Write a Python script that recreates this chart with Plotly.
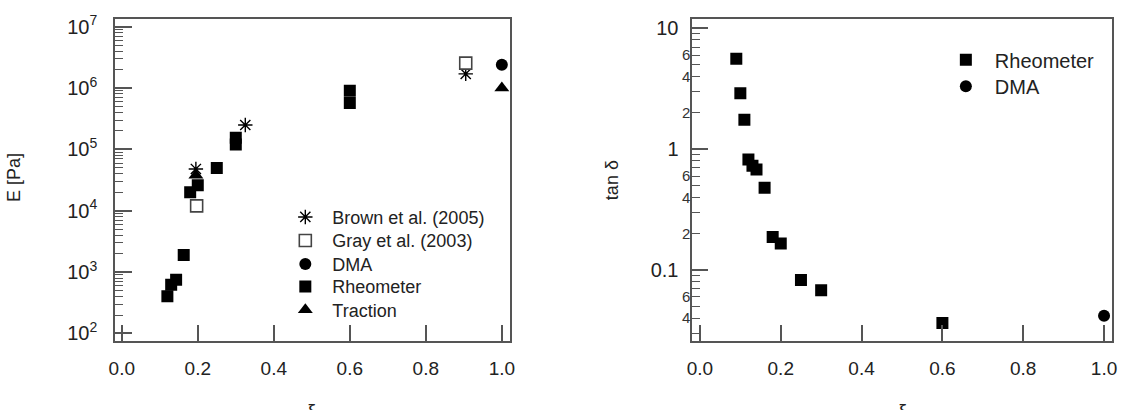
import plotly.graph_objects as go

W, H = 1130, 410

# ---------------- data (left panel: E [Pa]) ----------------
brown_x = [0.195, 0.325, 0.905]
brown_y = [4.8e4, 2.5e5, 1.7e6]
gray_x = [0.197, 0.905]
gray_y = [1.2e4, 2.55e6]
dma_x = [1.0]
dma_y = [2.4e6]
rheo_x = [0.12, 0.13, 0.143, 0.163, 0.18, 0.2, 0.25, 0.3, 0.3, 0.6, 0.6]
rheo_y = [405, 625, 750, 1900, 2.0e4, 2.6e4, 5.0e4, 1.55e5, 1.2e5, 9.0e5, 5.7e5]
traction_x = [0.195, 1.0]
traction_y = [3.8e4, 1.0e6]

# ---------------- data (right panel: tan delta) ----------------
rheo2_x = [0.09, 0.10, 0.11, 0.12, 0.13, 0.14, 0.16, 0.18, 0.20, 0.25, 0.30, 0.60]
rheo2_y = [5.6, 2.9, 1.75, 0.82, 0.73, 0.68, 0.48, 0.188, 0.166, 0.083, 0.068, 0.0365]
dma2_x = [1.0]
dma2_y = [0.042]

# ---------------- tick labels ----------------
x_ticks = [0.0, 0.2, 0.4, 0.6, 0.8, 1.0]
x_ticktext = ["0.0", "0.2", "0.4", "0.6", "0.8", "1.0"]
e_ticks = [1e2, 1e3, 1e4, 1e5, 1e6, 1e7]
e_ticktext = ["10<sup>2</sup>", "10<sup>3</sup>", "10<sup>4</sup>",
              "10<sup>5</sup>", "10<sup>6</sup>", "10<sup>7</sup>"]
e_minor = [m * 10 ** p for p in range(2, 7) for m in range(2, 10)]
t_major = [0.1, 1, 10]
t_major_text = ["0.1", "1", "10"]
t_minor_lab = [0.04, 0.06, 0.2, 0.4, 0.6, 2, 4, 6]
t_minor_text = ["4", "6", "2", "4", "6", "2", "4", "6"]
t_minor = [m * 10 ** p for p in (-2, -1, 0) for m in range(2, 10)]

FONT = "Liberation Sans, Arial, sans-serif"
TXT = "#222222"
AX = "#555555"

fig = go.Figure()


def mk(symbol, size, filled=True):
    if symbol == "asterisk-open":
        return dict(symbol=symbol, size=size, color="black",
                    line=dict(color="black", width=1.4))
    if not filled:
        return dict(symbol=symbol, size=size, color="white",
                    line=dict(color="#444444", width=1.6))
    return dict(symbol=symbol, size=size, color="black", line=dict(width=0))


# legend rows (pixel centres)
left_rows = [216, 240, 264, 287, 311]
right_rows = [55, 82]

left_traces = [
    ("Brown et al. (2005)", brown_x, brown_y, mk("asterisk-open", 12)),
    ("Gray et al. (2003)", gray_x, gray_y, mk("square", 12, filled=False)),
    ("DMA", dma_x, dma_y, mk("circle", 12)),
    ("Rheometer", rheo_x, rheo_y, mk("square", 12)),
    ("Traction", traction_x, traction_y, mk("triangle-up", 13)),
]
right_traces = [
    ("Rheometer", rheo2_x, rheo2_y, mk("square", 12)),
    ("DMA", dma2_x, dma2_y, mk("circle", 12)),
]

legends = {}
for i, (name, xs, ys, m) in enumerate(left_traces):
    lg = "legend" if i == 0 else f"legend{i + 1}"
    fig.add_trace(go.Scatter(x=xs, y=ys, mode="markers", name=name, marker=m,
                             xaxis="x", yaxis="y", legend=lg))
    legends[lg] = dict(x=275 / W, y=1 - left_rows[i] / H, xanchor="left", yanchor="middle",
                       bgcolor="rgba(0,0,0,0)", borderwidth=0, itemwidth=44,
                       font=dict(size=18, color=TXT, family=FONT))
for j, (name, xs, ys, m) in enumerate(right_traces):
    lg = f"legend{len(left_traces) + j + 1}"
    fig.add_trace(go.Scatter(x=xs, y=ys, mode="markers", name=name, marker=m,
                             xaxis="x2", yaxis="y2", legend=lg))
    legends[lg] = dict(x=940 / W, y=1 - right_rows[j] / H, xanchor="left", yanchor="middle",
                       bgcolor="rgba(0,0,0,0)", borderwidth=0, itemwidth=48,
                       font=dict(size=20, color=TXT, family=FONT))

# invisible copy on the overlay axis so its labelled minor ticks get drawn
fig.add_trace(go.Scatter(x=rheo2_x, y=rheo2_y, mode="markers", showlegend=False,
                         marker=dict(opacity=0), hoverinfo="skip", xaxis="x2", yaxis="y3"))

ydom = [(H - 343) / H, (H - 13) / H]
xdom1 = [110 / W, 509 / W]
xdom2 = [693 / W, 1117 / W]

common_x = dict(tickmode="array", tickvals=x_ticks, ticktext=x_ticktext, ticks="inside",
                ticklen=17, tickwidth=1.5, tickcolor=AX, showline=True, linecolor=AX,
                linewidth=1.5, mirror=True, showgrid=False, zeroline=False,
                ticklabelstandoff=9,
                tickfont=dict(size=19, color=TXT, family=FONT))

fig.update_layout(
    width=W, height=H,
    margin=dict(l=0, r=0, t=0, b=0),
    paper_bgcolor="white", plot_bgcolor="white",
    font=dict(family=FONT, color=TXT),
    xaxis=dict(domain=xdom1, range=[-0.018, 1.0216], anchor="y", **common_x),
    xaxis2=dict(domain=xdom2, range=[-0.019, 1.020], anchor="y2", **common_x),
    yaxis=dict(domain=ydom, type="log", range=[1.87, 7.13], anchor="x",
               tickmode="array", tickvals=e_ticks, ticktext=e_ticktext,
               ticks="inside", ticklen=17, tickwidth=1.5, tickcolor=AX,
               minor=dict(tickmode="array", tickvals=e_minor, ticks="inside",
                          ticklen=8, tickwidth=1.2, tickcolor=AX, showgrid=False),
               showline=True, linecolor=AX, linewidth=1.5, mirror=True,
               showgrid=False, zeroline=False, ticklabelstandoff=12,
               tickfont=dict(size=20, color=TXT, family=FONT)),
    yaxis2=dict(domain=ydom, type="log", range=[-1.59, 1.079], anchor="x2",
                tickmode="array", tickvals=t_major, ticktext=t_major_text,
                ticks="inside", ticklen=16, tickwidth=1.5, tickcolor=AX,
                minor=dict(tickmode="array", tickvals=t_minor, ticks="inside",
                           ticklen=8, tickwidth=1.2, tickcolor=AX, showgrid=False),
                showline=True, linecolor=AX, linewidth=1.5, mirror=True,
                showgrid=False, zeroline=False, ticklabelstandoff=8,
                tickfont=dict(size=20, color=TXT, family=FONT)),
    yaxis3=dict(overlaying="y2", anchor="x2", side="left", type="log", range=[-1.59, 1.079],
                tickmode="array", tickvals=t_minor_lab, ticktext=t_minor_text,
                ticks="inside", ticklen=8, tickwidth=1.2, tickcolor=AX,
                showline=False, showgrid=False, zeroline=False, ticklabelstandoff=1,
                tickfont=dict(size=15, color="#333333", family=FONT)),
    showlegend=True,
    **legends,
)

fig.add_annotation(text="E [Pa]", xref="paper", yref="paper", x=8 / W, y=1 - 175 / H,
                   showarrow=False, textangle=-90, font=dict(size=18, color=TXT, family=FONT),
                   xanchor="center", yanchor="middle")
fig.add_annotation(text="tan δ", xref="paper", yref="paper", x=612 / W, y=1 - 178 / H,
                   showarrow=False, textangle=-90, font=dict(size=18, color=TXT, family=FONT),
                   xanchor="center", yanchor="middle")
fig.add_annotation(text="ξ", xref="paper", yref="paper", x=309 / W, y=1 - 402 / H,
                   showarrow=False, font=dict(size=20, color=TXT, family=FONT),
                   xanchor="center", yanchor="top")
fig.add_annotation(text="ξ", xref="paper", yref="paper", x=905 / W, y=1 - 402 / H,
                   showarrow=False, font=dict(size=20, color=TXT, family=FONT),
                   xanchor="center", yanchor="top")

fig.write_html("out.html")
